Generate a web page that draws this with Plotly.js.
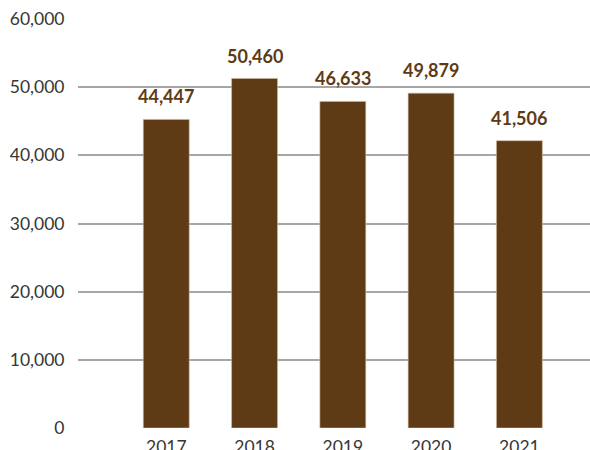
<!DOCTYPE html>
<html>
<head>
<meta charset="utf-8">
<script src="https://cdn.plot.ly/plotly-3.0.1.min.js"></script>
<style>html,body{margin:0;padding:0;background:#fff;}#chart{width:590px;height:450px;}</style>
</head>
<body>
<div id="chart"></div>
<script>
const years = [2017, 2018, 2019, 2020, 2021];
const barValues = [45270, 51270, 47910, 49120, 42150];
const labelTexts = ["44,447", "50,460", "46,633", "49,879", "41,506"];
const yTicks = [0, 10000, 20000, 30000, 40000, 50000, 60000];

const barColor = '#5e3a15';

const trace = {
  type: 'bar',
  x: years,
  y: barValues,
  width: 0.52,
  marker: {color: barColor, line: {color: '#cdbba3', width: 0.6}},
  hoverinfo: 'skip'
};

const annotations = years.map((yr, i) => ({
  x: yr, y: barValues[i], xref: 'x', yref: 'y',
  text: labelTexts[i], showarrow: false,
  yanchor: 'bottom', yshift: 10,
  font: {family: 'Lato, sans-serif', size: 18, color: barColor, weight: 'bold'}
}));

const layout = {
  width: 590, height: 450,
  margin: {l: 78, r: 0, t: 19, b: 22},
  paper_bgcolor: '#fff', plot_bgcolor: '#fff',
  showlegend: false,
  bargap: 0,
  xaxis: {
    type: 'linear', range: [2016, 2021.8],
    tickvals: years, ticktext: years.map(String),
    showgrid: false, zeroline: false, showline: false,
    ticks: 'outside', ticklen: 3, tickcolor: 'rgba(0,0,0,0)',
    tickfont: {family: 'Lato, sans-serif', size: 17.5, color: '#363636'}
  },
  yaxis: {
    range: [0, 60000], tickvals: yTicks,
    tickformat: ',d',
    showgrid: true, gridcolor: '#a6a6a6', gridwidth: 2,
    zeroline: false, showline: false,
    ticks: 'outside', ticklen: 9, tickcolor: 'rgba(0,0,0,0)',
    tickfont: {family: 'Lato, sans-serif', size: 17.5, color: '#363636'}
  },
  annotations: annotations
};

Plotly.newPlot('chart', [trace], layout, {displayModeBar: false, staticPlot: true});
</script>
</body>
</html>
